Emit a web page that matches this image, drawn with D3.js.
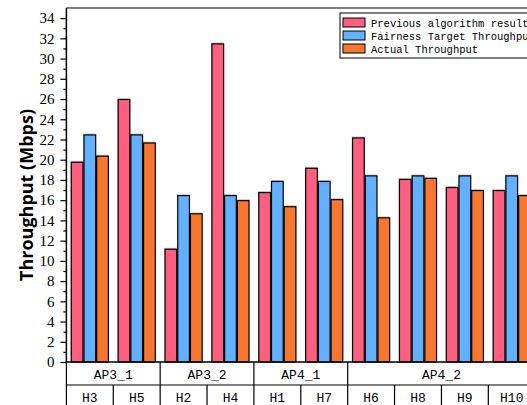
<!DOCTYPE html>
<html><head><meta charset="utf-8">
<script src="https://cdn.jsdelivr.net/npm/d3@7"></script>
<style>
html,body{margin:0;padding:0;background:#fff;overflow:hidden;}
svg{display:block;}
</style></head>
<body>
<svg id="chart" width="527" height="405"></svg>
<script>
const hosts = ["H3","H5","H2","H4","H1","H7","H6","H8","H9","H10"];
const aps = ["AP3_1","AP3_1","AP3_2","AP3_2","AP4_1","AP4_1","AP4_2","AP4_2","AP4_2","AP4_2"];
const apGroups = ["AP3_1","AP3_2","AP4_1","AP4_2"];
const seriesNames = ["Previous algorithm result","Fairness Target Throughput","Actual Throughput"];
const previous = [19.8, 26.0, 11.2, 31.5, 16.8, 19.2, 22.2, 18.1, 17.3, 17.0];
const target   = [22.5, 22.5, 16.5, 16.5, 17.9, 17.9, 18.45, 18.45, 18.45, 18.45];
const actual   = [20.4, 21.7, 14.7, 16.0, 15.4, 16.1, 14.3, 18.2, 17.0, 16.5];
const yTicks = d3.range(0, 35, 2);
const colors = ["#fe5f7f", "#62b0ff", "#f77730"];

const svg = d3.select("#chart");
const X0 = 66.4, X1 = 535.2, Y0 = 362, YT = 8;
const x = d3.scaleBand().domain(hosts).range([X0, X1]).padding(0);
const xs = d3.scaleBand().domain([0,1,2]).range([0, x.bandwidth()]).paddingInner(0).paddingOuter(0.345);
const y = d3.scaleLinear().domain([0, 35]).range([Y0, YT]);

const seriesVals = [previous, target, actual];

// bars
const g = svg.append("g");
hosts.forEach((h, i) => {
  seriesVals.forEach((vals, s) => {
    const bx = x(h) + xs(s), by = y(vals[i]);
    g.append("rect").attr("x", bx - 0.3).attr("y", by - 1)
      .attr("width", xs.bandwidth()).attr("height", Y0 - by + 1)
      .attr("fill", "rgba(0,0,0,0.22)");
    g.append("rect").attr("x", bx + 0.5).attr("y", by + 0.5)
      .attr("width", xs.bandwidth() - 1).attr("height", Y0 - by - 0.5)
      .attr("fill", colors[s]).attr("stroke", "#000").attr("stroke-width", 1.2);
  });
});

// top frame
svg.append("line").attr("x1", X0).attr("x2", X1).attr("y1", YT).attr("y2", YT)
  .attr("stroke", "#555").attr("stroke-width", 1.5);

// y axis
const yAxis = d3.axisLeft(y).tickValues(yTicks).tickSize(6).tickPadding(6).tickFormat(d3.format("d"));
const ya = svg.append("g").attr("transform", `translate(${X0},0)`).call(yAxis);
ya.attr("font-family", null);
ya.select(".domain").attr("stroke", "#000").attr("stroke-width", 1.5).attr("d", `M0,${Y0}V${YT}`);
ya.selectAll(".tick line").attr("stroke", "#000").attr("stroke-width", 1.2);
ya.selectAll(".tick text").style("font-family", "'Liberation Serif', 'Times New Roman', serif").style("font-size", "15px").attr("fill", "#000");
const minor = d3.axisLeft(y).tickValues(d3.range(1, 35, 2)).tickSize(3).tickFormat("");
const ym = svg.append("g").attr("transform", `translate(${X0},0)`).call(minor);
ym.select(".domain").remove();
ym.selectAll(".tick line").attr("stroke", "#000").attr("stroke-width", 1.2);

// y title
svg.append("text").attr("transform", `translate(33,${(Y0+YT)/2 + 10}) rotate(-90)`)
  .attr("text-anchor", "middle").style("font-family", "'Open Sans', sans-serif")
  .attr("font-weight", "bold").style("font-size", "18px").attr("fill", "#000")
  .text("Throughput (Mbps)");

// category table
const R1 = 385, R2 = 410;
const t = svg.append("g").attr("stroke", "#000").attr("stroke-width", 1.2);
t.append("line").attr("x1", X0).attr("x2", X1).attr("y1", Y0).attr("y2", Y0).attr("stroke-width", 1.5);
t.append("line").attr("x1", X0).attr("x2", X1).attr("y1", R1).attr("y2", R1);
t.append("line").attr("x1", X0).attr("x2", X0).attr("y1", Y0).attr("y2", R2);
hosts.forEach((h, i) => {
  if (i === 0) return;
  const full = aps[i] !== aps[i-1];
  t.append("line").attr("x1", x(h)).attr("x2", x(h)).attr("y1", full ? Y0 : R1).attr("y2", R2);
});
hosts.forEach((h) => {
  svg.append("text").attr("x", x(h) + x.bandwidth()/2).attr("y", R1 + 17)
    .attr("text-anchor", "middle").style("font-family", "'Liberation Mono', monospace")
    .style("font-size", "13px").attr("fill", "#000").text(h);
});
apGroups.forEach((ap) => {
  const idx = aps.map((a, i) => a === ap ? i : -1).filter(i => i >= 0);
  const left = x(hosts[idx[0]]), right = x(hosts[idx[idx.length-1]]) + x.bandwidth();
  svg.append("text").attr("x", (left + right)/2).attr("y", Y0 + 17)
    .attr("text-anchor", "middle").style("font-family", "'Liberation Mono', monospace")
    .style("font-size", "13px").attr("fill", "#000").text(ap);
});

// legend
const lg = svg.append("g").attr("transform", "translate(340,13)");
lg.append("rect").attr("x", 0).attr("y", 0).attr("width", 200).attr("height", 45)
  .attr("fill", "#fff").attr("stroke", "#000").attr("stroke-width", 1);
seriesNames.forEach((n, i) => {
  lg.append("rect").attr("x", 3).attr("y", 5 + i*13).attr("width", 22).attr("height", 9)
    .attr("fill", colors[i]).attr("stroke", "#000").attr("stroke-width", 1);
  lg.append("text").attr("x", 31).attr("y", 13.5 + i*13)
    .style("font-family", "'Liberation Mono', monospace").style("font-size", "10.5px")
    .attr("fill", "#000").text(n);
});
</script>
</body></html>
